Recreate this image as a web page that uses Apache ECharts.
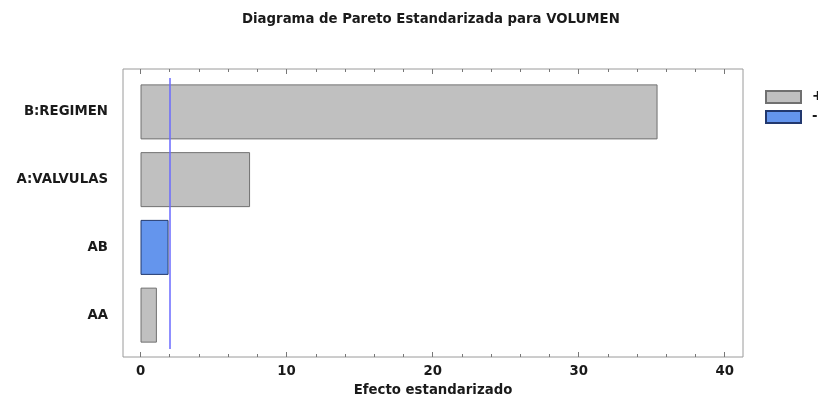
<!DOCTYPE html>
<html>
<head>
<meta charset="utf-8">
<script src="https://cdn.jsdelivr.net/npm/echarts@6/dist/echarts.min.js"></script>
<style>
  html, body { margin: 0; padding: 0; background: #fff; }
  #chart { width: 818px; height: 399px; }
</style>
</head>
<body>
<div id="chart"></div>
<script>
// Standardized effects, top to bottom
const categories = ['B:REGIMEN', 'A:VALVULAS', 'AB', 'AA'];
const effects = [35.4, 7.5, 1.92, 1.12];
const signs = ['+', '+', '-', '+'];
const criticalValue = 1.98;
const majorTicks = [0, 10, 20, 30, 40];
const minorTicks = [2, 4, 6, 8, 12, 14, 16, 18, 22, 24, 26, 28, 32, 34, 36, 38];
const xMin = -1.2, xMax = 41.25;

const FONT = '"DejaVu Sans", "Liberation Sans", Arial, sans-serif';
const FS = 13.3;
const TXT = '#1a1a1a';
const FRAME = '#9a9a9a';
const CRIT = '#6a6aff';

const posData = effects.map((v, i) => signs[i] === '+' ? v : '-');
const negData = effects.map((v, i) => signs[i] === '-' ? v : '-');

function frameAxis(pos, ticks, len, labels) {
  return {
    type: 'value', gridIndex: 0, position: pos, min: xMin, max: xMax,
    axisLine: { show: false },
    splitLine: { show: false },
    axisTick: { show: true, inside: true, length: len, customValues: ticks,
                lineStyle: { color: '#777', width: 1 } },
    axisLabel: labels ? { show: true, customValues: ticks, margin: 8,
                fontFamily: FONT, fontSize: FS, fontWeight: 'bold', color: TXT }
              : { show: false }
  };
}

const bottomMajor = frameAxis('bottom', majorTicks, 5, true);
bottomMajor.name = 'Efecto estandarizado';
bottomMajor.nameLocation = 'middle';
bottomMajor.nameGap = 27;
bottomMajor.nameTextStyle = { fontFamily: FONT, fontSize: FS, fontWeight: 'bold', color: TXT };

const chart = echarts.init(document.getElementById('chart'), null, { renderer: 'canvas' });
chart.setOption({
  animation: false,
  backgroundColor: '#fff',
  title: {
    text: 'Diagrama de Pareto Estandarizada para VOLUMEN',
    left: 242, top: 13, padding: 0,
    textStyle: { fontFamily: FONT, fontSize: FS, fontWeight: 'bold', color: TXT }
  },
  legend: {
    orient: 'vertical', left: 765, top: 90, padding: 0,
    icon: 'rect',
    itemWidth: 35, itemHeight: 12, itemGap: 6,
    data: ['+', '-'],
    textStyle: { fontFamily: FONT, fontSize: FS, fontWeight: 'bold', color: TXT,
                 lineHeight: 12, padding: [0, 0, 0, 6] }
  },
  grid: [
    { left: 123, top: 69, width: 620, height: 288, show: true, outerBoundsMode: 'none',
      borderColor: FRAME, borderWidth: 1, backgroundColor: 'transparent' },
    { left: 123, top: 78, width: 620, height: 271, outerBoundsMode: 'none' }
  ],
  xAxis: [
    bottomMajor,
    frameAxis('bottom', minorTicks, 3, false),
    frameAxis('top', majorTicks, 5, false),
    frameAxis('top', minorTicks, 3, false),
    { type: 'value', gridIndex: 1, min: xMin, max: xMax, show: false }
  ],
  yAxis: [
    { type: 'value', gridIndex: 0, show: false },
    { type: 'category', gridIndex: 1, data: categories, inverse: true,
      axisLine: { show: false }, axisTick: { show: false },
      axisLabel: { margin: 15, fontFamily: FONT, fontSize: FS, fontWeight: 'bold', color: TXT } }
  ],
  series: [
    {
      name: '+', type: 'bar', xAxisIndex: 4, yAxisIndex: 1, stack: 'efecto',
      data: posData, barWidth: 55,
      itemStyle: { color: '#c0c0c0', borderColor: '#707070', borderWidth: 1 }
    },
    {
      name: '-', type: 'bar', xAxisIndex: 4, yAxisIndex: 1, stack: 'efecto',
      data: negData, barWidth: 55,
      itemStyle: { color: '#6495ed', borderColor: '#22386e', borderWidth: 1 }
    },
    {
      // critical value of the standardized effect
      name: 'critico', type: 'line', xAxisIndex: 4, yAxisIndex: 1, z: 5,
      data: [], color: CRIT,
      markLine: {
        silent: true, symbol: 'none', label: { show: false },
        emphasis: { disabled: true },
        lineStyle: { color: CRIT, width: 1.5, type: 'solid', opacity: 1 },
        data: [{ xAxis: criticalValue }]
      }
    }
  ]
});
</script>
</body>
</html>
